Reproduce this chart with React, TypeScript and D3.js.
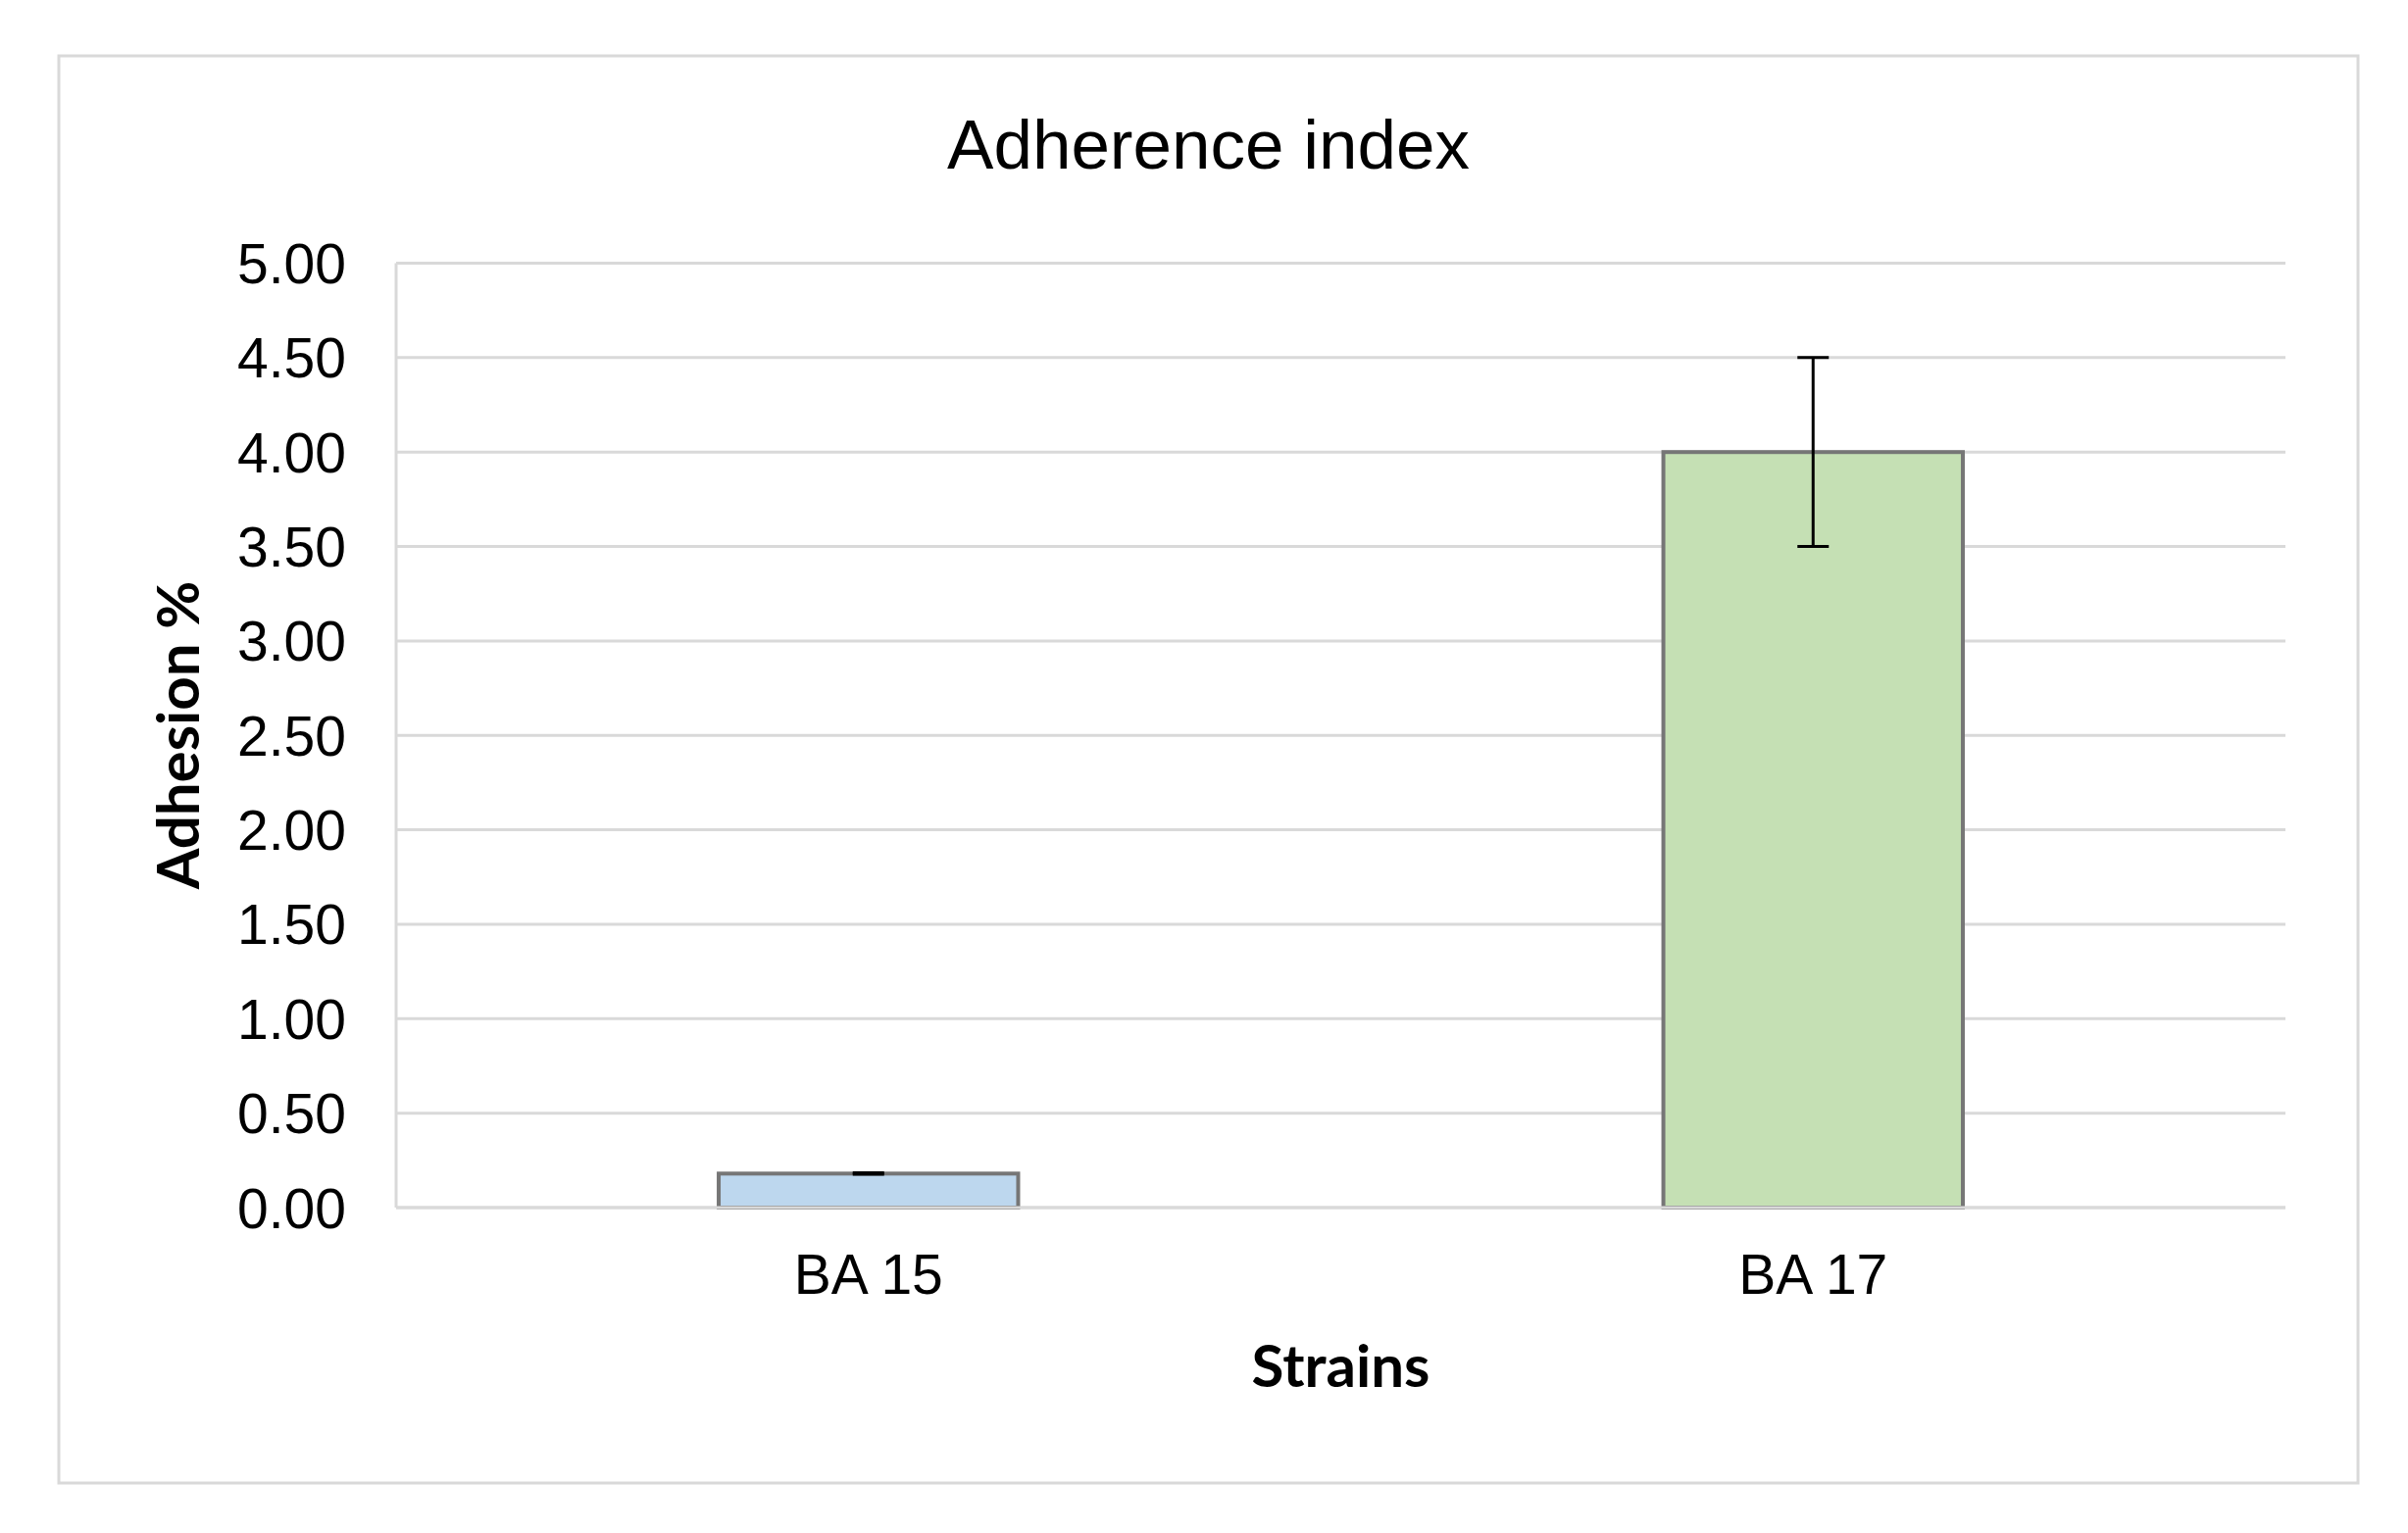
import React from "react";
import * as d3 from "d3";

const categories = ["BA 15", "BA 17"];
const values = [0.18, 4.0];
const errors = [0.004, 0.5];
const barColors = ["#BDD7EE", "#C5E0B4"];
const yTicks = [0, 0.5, 1, 1.5, 2, 2.5, 3, 3.5, 4, 4.5, 5];
const title = "Adherence index";
const xTitle = "Strains";
const yTitle = "Adhesion %";

const W = 2456;
const H = 1564;
const frame = { left: 60, top: 57, right: 2405, bottom: 1513 };
const plot = { left: 404, right: 2331, top: 268.5, bottom: 1232 };

export default function App() {
  const x = d3
    .scaleBand<string>()
    .domain(categories)
    .range([plot.left, plot.right])
    .paddingInner(0.683)
    .paddingOuter(0.3415);
  const y = d3.scaleLinear().domain([0, 5]).range([plot.bottom, plot.top]);
  const fmt = d3.format(".2f");
  const cx = (c: string) => (x(c) as number) + x.bandwidth() / 2;
  const capW = 32;

  return (
    <svg
      width={W}
      height={H}
      style={{ position: "absolute", left: 0, top: 0, background: "#fff" }}
    >
      <rect
        x={frame.left}
        y={frame.top}
        width={frame.right - frame.left}
        height={frame.bottom - frame.top}
        fill="#fff"
        stroke="#D9D9D9"
        strokeWidth={3}
      />
      <text
        x={(frame.left + frame.right) / 2}
        y={172}
        textAnchor="middle"
        fontFamily="Liberation Sans, Arial, sans-serif"
        fontSize={71}
        fill="#000"
      >
        {title}
      </text>
      {yTicks.map((t) => (
        <g key={t}>
          <line
            x1={plot.left}
            x2={plot.right}
            y1={y(t)}
            y2={y(t)}
            stroke="#D9D9D9"
            strokeWidth={3}
          />
          <text
            x={353}
            y={y(t)}
            dy="0.36em"
            textAnchor="end"
            fontFamily="Liberation Sans, Arial, sans-serif"
            fontSize={57}
            fill="#000"
          >
            {fmt(t)}
          </text>
        </g>
      ))}
      <line x1={plot.left} x2={plot.left} y1={plot.top} y2={plot.bottom} stroke="#D9D9D9" strokeWidth={3} />
      {categories.map((c, i) => (
        <g key={c}>
          <rect
            x={x(c)}
            y={y(values[i])}
            width={x.bandwidth()}
            height={y(0) - y(values[i])}
            fill={barColors[i]}
            stroke="#767676"
            strokeWidth={4}
          />
          <line
            x1={cx(c)}
            x2={cx(c)}
            y1={y(values[i] + errors[i])}
            y2={y(values[i] - errors[i])}
            stroke="#000"
            strokeWidth={3}
          />
          <line
            x1={cx(c) - capW / 2}
            x2={cx(c) + capW / 2}
            y1={y(values[i] + errors[i])}
            y2={y(values[i] + errors[i])}
            stroke="#000"
            strokeWidth={3}
          />
          <line
            x1={cx(c) - capW / 2}
            x2={cx(c) + capW / 2}
            y1={y(values[i] - errors[i])}
            y2={y(values[i] - errors[i])}
            stroke="#000"
            strokeWidth={3}
          />
          <text
            x={cx(c)}
            y={1320}
            textAnchor="middle"
            fontFamily="Liberation Sans, Arial, sans-serif"
            fontSize={57}
            fill="#000"
          >
            {c}
          </text>
        </g>
      ))}
      <line x1={plot.left} x2={plot.right} y1={plot.bottom} y2={plot.bottom} stroke="#D9D9D9" strokeWidth={3} />
      <text
        x={(plot.left + plot.right) / 2}
        y={1415}
        textAnchor="middle"
        fontFamily="Lato, Open Sans, sans-serif"
        fontWeight="bold"
        fontSize={60}
        fill="#000"
      >
        {xTitle}
      </text>
      <text
        transform="translate(203,750) rotate(-90)"
        textAnchor="middle"
        fontFamily="Lato, Open Sans, sans-serif"
        fontWeight="bold"
        fontSize={60}
        fill="#000"
      >
        {yTitle}
      </text>
    </svg>
  );
}
